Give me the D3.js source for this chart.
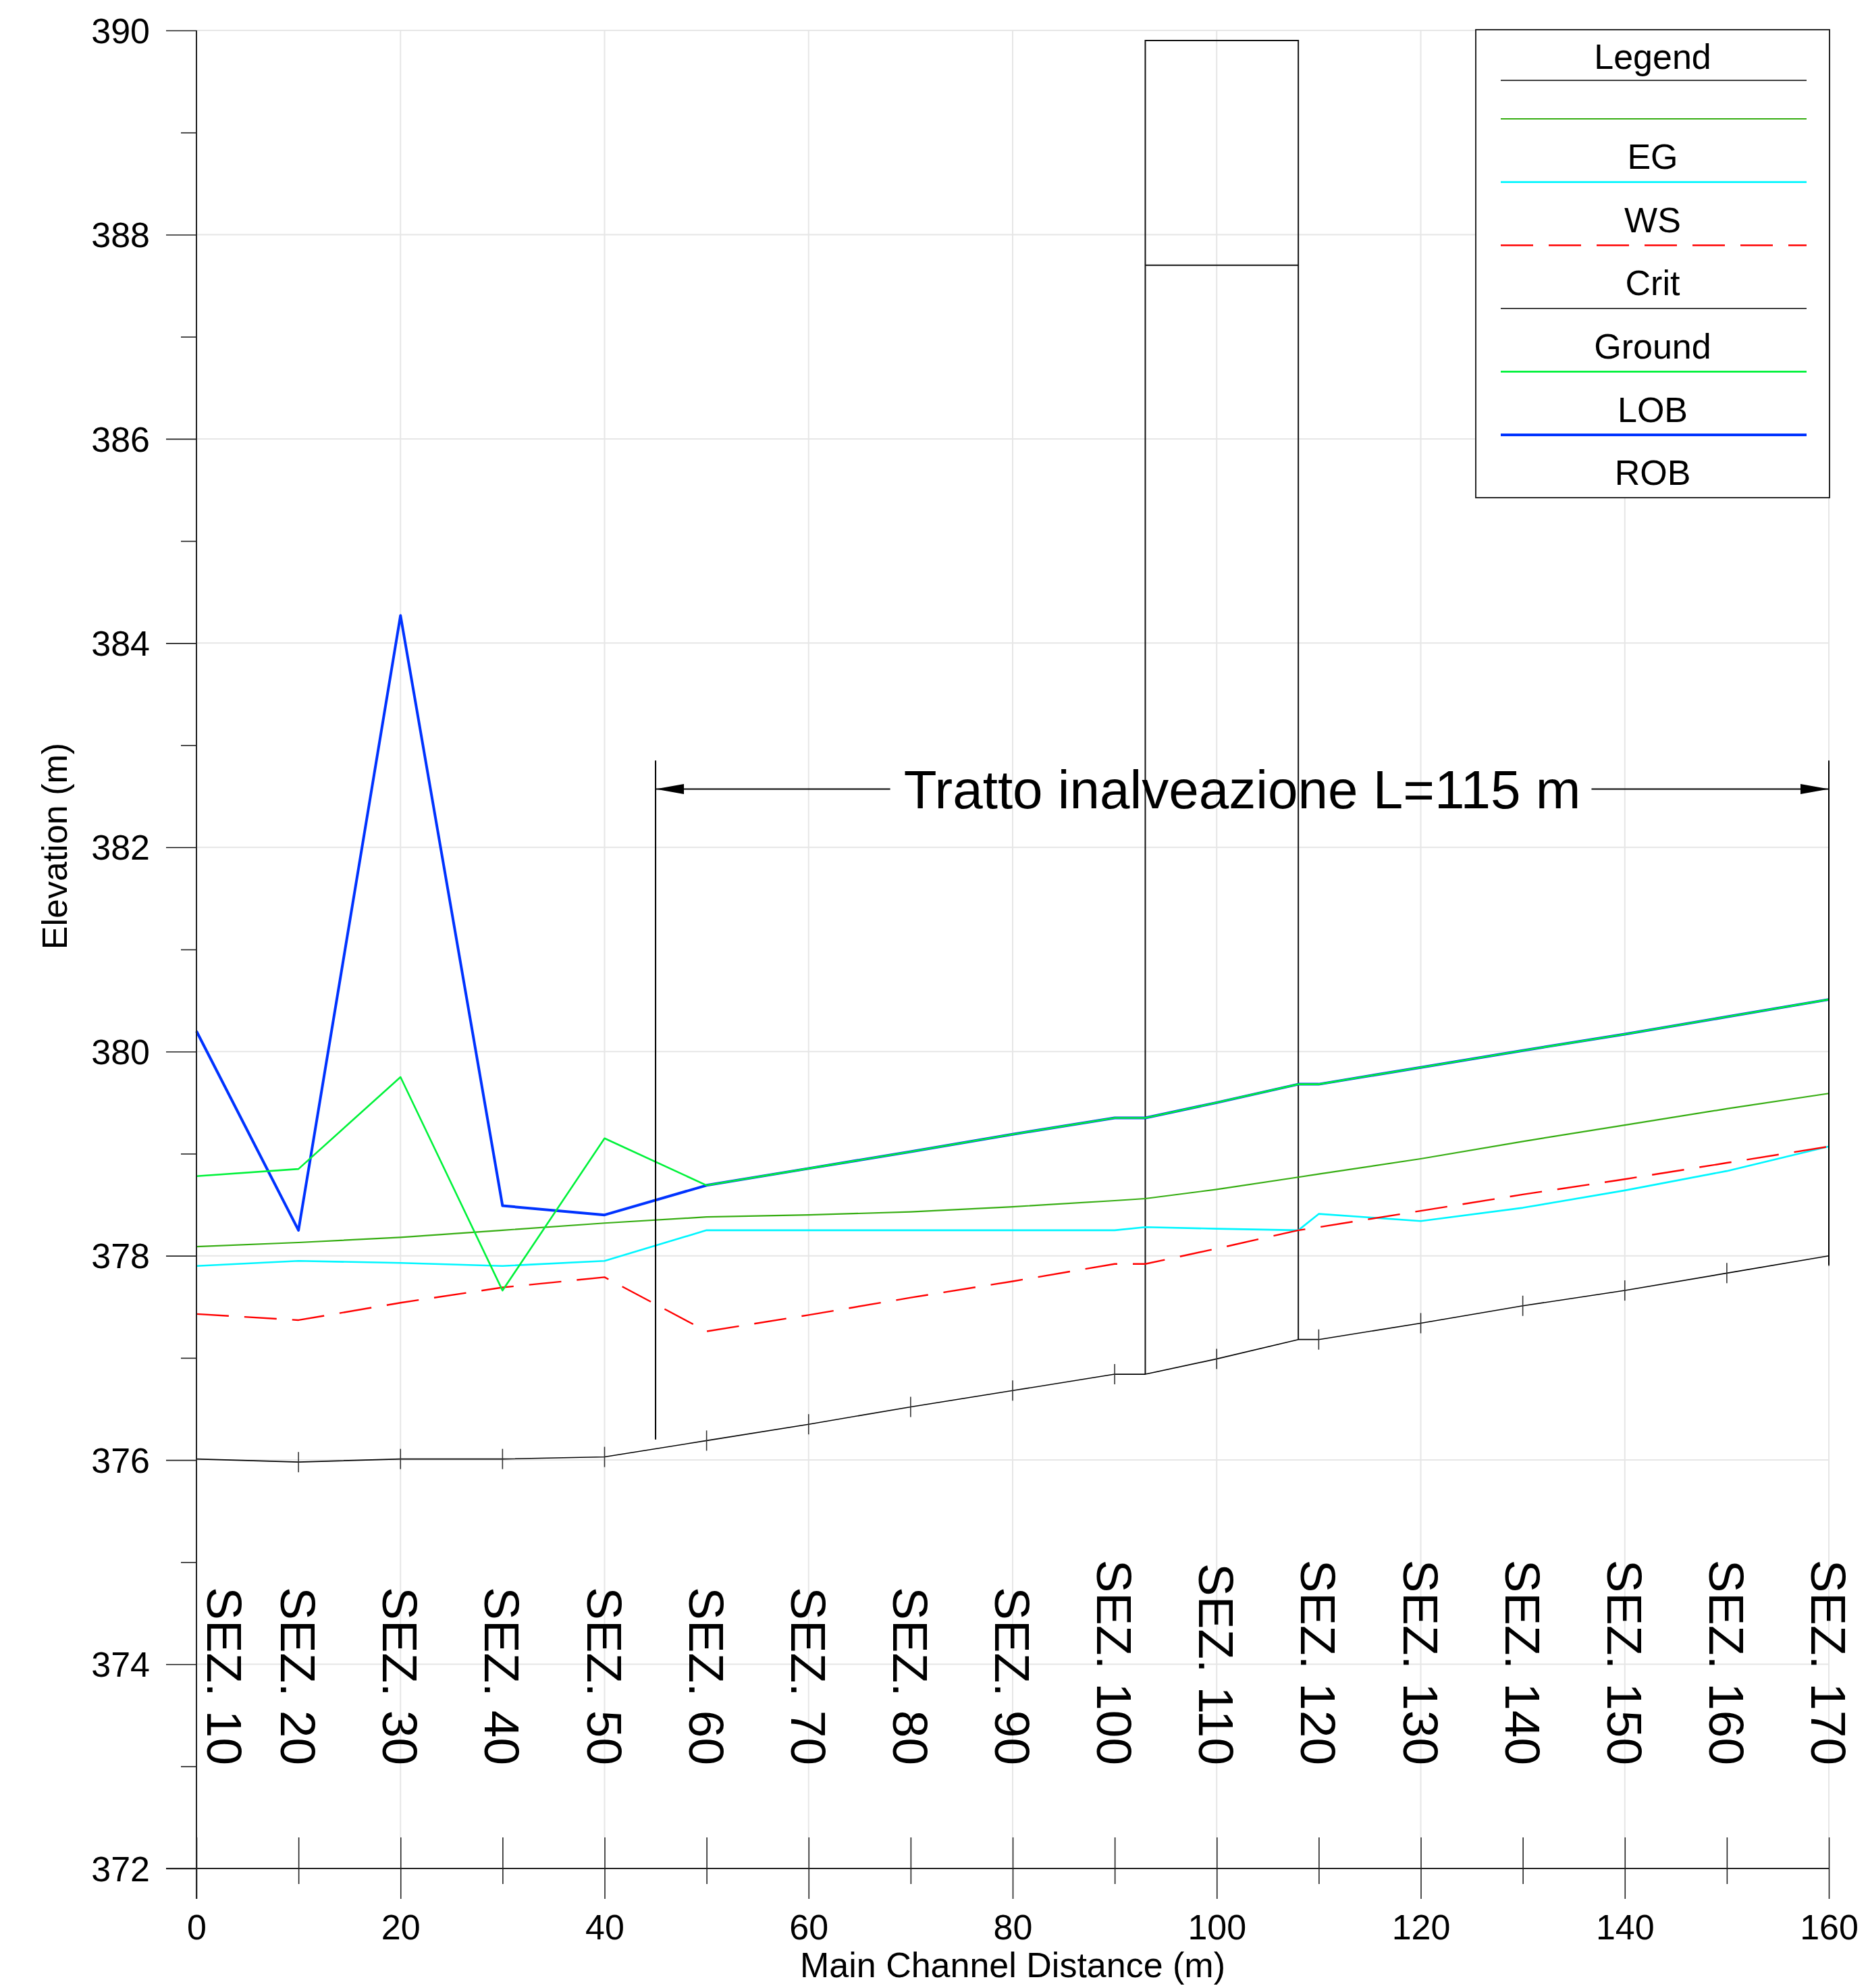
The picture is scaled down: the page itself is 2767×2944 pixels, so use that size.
<!DOCTYPE html>
<html>
<head>
<meta charset="utf-8">
<script src="https://cdn.jsdelivr.net/npm/d3@7"></script>
<style>
  html, body { margin: 0; padding: 0; background: #ffffff; }
  svg { display: block; }
  text { font-family: "Liberation Sans", Arial, Helvetica, sans-serif; fill: #000; }
</style>
</head>
<body>
<svg id="chart" width="2767" height="2944"></svg>
<script>
// ---------------- DATA ----------------
const stations = [0, 10, 20, 30, 40, 50, 60, 70, 80, 90, 93, 100, 108, 110, 120, 130, 140, 150, 160];
const ground   = [376.01, 375.98, 376.01, 376.01, 376.03, 376.19, 376.35, 376.52, 376.68, 376.84, 376.84, 376.99, 377.18, 377.18, 377.34, 377.51, 377.66, 377.83, 378.00];
const eg       = [378.09, 378.13, 378.18, 378.25, 378.32, 378.38, 378.40, 378.43, 378.48, 378.54, 378.56, 378.65, 378.77, 378.80, 378.95, 379.12, 379.28, 379.44, 379.59];
const ws       = [377.90, 377.95, 377.93, 377.90, 377.95, 378.25, 378.25, 378.25, 378.25, 378.25, 378.28, 378.265, 378.25, 378.41, 378.34, 378.47, 378.64, 378.83, 379.07];
const crit     = [377.43, 377.37, 377.54, 377.69, 377.79, 377.26, 377.42, 377.59, 377.75, 377.92, 377.92, 378.07, 378.25, 378.28, 378.44, 378.60, 378.75, 378.91, 379.07];
const lob      = [378.78, 378.85, 379.75, 377.66, 379.15, 378.69, 378.855, 379.02, 379.19, 379.35, 379.35, 379.50, 379.68, 379.68, 379.845, 380.01, 380.17, 380.34, 380.51];
const rob      = [380.20, 378.25, 384.27, 378.49, 378.40, 378.69, 378.855, 379.02, 379.19, 379.35, 379.35, 379.50, 379.68, 379.68, 379.845, 380.01, 380.17, 380.34, 380.51];

const sectionStations = [0, 10, 20, 30, 40, 50, 60, 70, 80, 90, 100, 110, 120, 130, 140, 150, 160];
const sectionLabels   = ["SEZ. 10", "SEZ. 20", "SEZ. 30", "SEZ. 40", "SEZ. 50", "SEZ. 60", "SEZ. 70", "SEZ. 80", "SEZ. 90",
                         "SEZ. 100", "SEZ. 110", "SEZ. 120", "SEZ. 130", "SEZ. 140", "SEZ. 150", "SEZ. 160", "SEZ. 170"];

const bridgeStations = [93, 108];
const bridgeDeckTop = 389.9;
const bridgeLowChord = 387.7;

const reachStart = 45, reachEnd = 160;
const reachText = "Tratto inalveazione L=115 m";

const xTicks = [0, 20, 40, 60, 80, 100, 120, 140, 160];
const yTicks = [372, 374, 376, 378, 380, 382, 384, 386, 388, 390];

const legendTitle = "Legend";
const legendLabels = ["", "EG", "WS", "Crit", "Ground", "LOB", "ROB"];

// ---------------- LAYOUT ----------------
const svg = d3.select("#chart");
const x = d3.scaleLinear().domain([0, 160]).range([291, 2709]);
const y = d3.scaleLinear().domain([372, 390]).range([2767, 45]);
const FONT = 52;

const series = {
  ground: { vals: ground, color: "#000000", width: 1.6, dash: null },
  eg:     { vals: eg,     color: "#36ad12", width: 2.2, dash: null },
  ws:     { vals: ws,     color: "#00f6ff", width: 2.6, dash: null },
  crit:   { vals: crit,   color: "#ff0000", width: 2.4, dash: "48,23" },
  rob:    { vals: rob,    color: "#0033ff", width: 4,   dash: null },
  lob:    { vals: lob,    color: "#00f23a", width: 2.6, dash: null }
};

// ---------------- GRID ----------------
const grid = svg.append("g");
grid.selectAll("line.h").data(yTicks.filter(v => v > 372)).join("line")
  .attr("x1", x(0)).attr("x2", x(160))
  .attr("y1", d => y(d)).attr("y2", d => y(d))
  .attr("stroke", "#e6e6e6").attr("stroke-width", 2);
grid.selectAll("line.v").data(xTicks.filter(v => v > 0)).join("line")
  .attr("x1", d => x(d)).attr("x2", d => x(d))
  .attr("y1", y(390)).attr("y2", y(372) - 46)
  .attr("stroke", "#e6e6e6").attr("stroke-width", 2);

// ---------------- BRIDGE ----------------
const gAt = s => ground[stations.indexOf(s)];
const bridge = svg.append("g").attr("fill", "none").attr("stroke", "#111").attr("stroke-width", 2);
bridge.append("path").attr("d", d3.line()([
  [x(bridgeStations[0]), y(gAt(bridgeStations[0]))],
  [x(bridgeStations[0]), y(bridgeDeckTop)],
  [x(bridgeStations[1]), y(bridgeDeckTop)],
  [x(bridgeStations[1]), y(gAt(bridgeStations[1]))]
]));
bridge.append("line")
  .attr("x1", x(bridgeStations[0])).attr("x2", x(bridgeStations[1]))
  .attr("y1", y(bridgeLowChord)).attr("y2", y(bridgeLowChord));

// ---------------- SERIES ----------------
const line = d3.line().x((d, i) => x(stations[i])).y(d => y(d));
["ground", "ws", "crit", "eg", "rob", "lob"].forEach(k => {
  const s = series[k];
  svg.append("path").datum(s.vals)
    .attr("d", line)
    .attr("fill", "none")
    .attr("stroke", s.color)
    .attr("stroke-width", s.width)
    .attr("stroke-linejoin", "round")
    .attr("stroke-dasharray", s.dash);
});

// ground section ticks
svg.append("g").selectAll("line").data(sectionStations).join("line")
  .attr("x1", d => x(d)).attr("x2", d => x(d))
  .attr("y1", d => y(gAt(d)) - 15).attr("y2", d => y(gAt(d)) + 15)
  .attr("stroke", "#333").attr("stroke-width", 1.6);

// ---------------- REACH ANNOTATION ----------------
const ann = svg.append("g");
const annTop = 382.85, annArrow = 382.57;
ann.append("line").attr("x1", x(reachStart)).attr("x2", x(reachStart))
  .attr("y1", y(annTop)).attr("y2", y(376.2)).attr("stroke", "#000").attr("stroke-width", 2);
ann.append("line").attr("x1", x(reachEnd)).attr("x2", x(reachEnd))
  .attr("y1", y(annTop)).attr("y2", y(377.91)).attr("stroke", "#000").attr("stroke-width", 2);
const ay = y(annArrow);
const annText = ann.append("text")
  .attr("x", (x(reachStart) + x(reachEnd)) / 2).attr("y", ay + 28.6)
  .attr("text-anchor", "middle").attr("font-size", 80)
  .text(reachText);
const tl = annText.node().getComputedTextLength();
const cxm = (x(reachStart) + x(reachEnd)) / 2;
ann.append("line").attr("x1", x(reachStart)).attr("x2", cxm - tl / 2 - 20)
  .attr("y1", ay).attr("y2", ay).attr("stroke", "#000").attr("stroke-width", 2);
ann.append("line").attr("x1", cxm + tl / 2 + 16).attr("x2", x(reachEnd))
  .attr("y1", ay).attr("y2", ay).attr("stroke", "#000").attr("stroke-width", 2);
ann.append("path").attr("d", `M${x(reachStart)},${ay} L${x(reachStart) + 42},${ay - 7.5} L${x(reachStart) + 42},${ay + 7.5} Z`).attr("fill", "#000");
ann.append("path").attr("d", `M${x(reachEnd)},${ay} L${x(reachEnd) - 42},${ay - 7.5} L${x(reachEnd) - 42},${ay + 7.5} Z`).attr("fill", "#000");

// ---------------- SECTION LABELS ----------------
svg.append("g").selectAll("text").data(sectionStations).join("text")
  .attr("font-size", 73)
  .attr("text-anchor", "end")
  .attr("transform", d => {
    const cx = Math.max(x(d), x(0) + 42);
    return `translate(${cx - 26},2614) rotate(90)`;
  })
  .text((d, i) => sectionLabels[i]);

// ---------------- AXES ----------------
const yAxis = d3.axisLeft(y).tickValues(d3.range(372, 391, 1)).tickSize(0).tickPadding(0)
  .tickFormat(d => (d % 2 === 0 ? d : ""));
const gy = svg.append("g").attr("transform", `translate(${x(0)},0)`).call(yAxis);
gy.select(".domain").remove();
gy.selectAll(".tick line").attr("x2", d => (d % 2 === 0 ? -45 : -23)).attr("stroke", "#222").attr("stroke-width", 1.6);
gy.selectAll(".tick text").attr("x", -69).attr("dy", "0.35em")
  .attr("font-size", FONT).attr("font-family", null).attr("fill", "#000");

const xAxis = d3.axisBottom(x).tickValues(d3.range(0, 161, 10)).tickSize(0).tickPadding(0)
  .tickFormat(d => (d % 20 === 0 ? d : ""));
const gx = svg.append("g").attr("transform", `translate(0,${y(372)})`).call(xAxis);
gx.select(".domain").remove();
gx.selectAll(".tick line").attr("y1", -46).attr("y2", d => (d % 20 === 0 ? 45 : 23)).attr("stroke", "#222").attr("stroke-width", 1.6);
gx.selectAll(".tick text").attr("y", 105).attr("dy", 0)
  .attr("font-size", FONT).attr("font-family", null).attr("fill", "#000");

// axis lines
svg.append("line").attr("x1", x(0)).attr("x2", x(0)).attr("y1", y(390)).attr("y2", y(372) + 45)
  .attr("stroke", "#222").attr("stroke-width", 2);
svg.append("line").attr("x1", x(0) - 45).attr("x2", x(160)).attr("y1", y(372)).attr("y2", y(372))
  .attr("stroke", "#222").attr("stroke-width", 2);

// axis titles
svg.append("text").attr("x", (x(0) + x(160)) / 2).attr("y", 2928)
  .attr("text-anchor", "middle").attr("font-size", FONT).text("Main Channel Distance (m)");
svg.append("text").attr("transform", "translate(99,1253) rotate(-90)")
  .attr("text-anchor", "middle").attr("font-size", FONT).text("Elevation (m)");

// ---------------- LEGEND ----------------
const lg = svg.append("g");
const lx0 = 2186, lx1 = 2710, ly0 = 44, ly1 = 737;
lg.append("rect").attr("x", lx0).attr("y", ly0).attr("width", lx1 - lx0).attr("height", ly1 - ly0)
  .attr("fill", "#fff").attr("stroke", "#111").attr("stroke-width", 1.8);
const lcx = (lx0 + lx1) / 2;
lg.append("text").attr("x", lcx).attr("y", 102).attr("text-anchor", "middle").attr("font-size", FONT).text(legendTitle);
lg.append("line").attr("x1", 2223).attr("x2", 2676).attr("y1", 119).attr("y2", 119).attr("stroke", "#000").attr("stroke-width", 1.4);
const legendLines = ["eg", "ws", "crit", "ground", "lob", "rob", null];
legendLabels.forEach((lab, i) => {
  const ly = 176 + i * 93.6;
  if (legendLines[i]) {
    const s = series[legendLines[i]];
    lg.append("line").attr("x1", 2223).attr("x2", 2676).attr("y1", ly).attr("y2", ly)
      .attr("stroke", s.color).attr("stroke-width", s.width === 1.6 ? 1.4 : s.width)
      .attr("stroke-dasharray", s.dash);
  }
  lg.append("text").attr("x", lcx).attr("y", ly - 19.5)
    .attr("text-anchor", "middle").attr("font-size", FONT).text(lab);
});
</script>
</body>
</html>
